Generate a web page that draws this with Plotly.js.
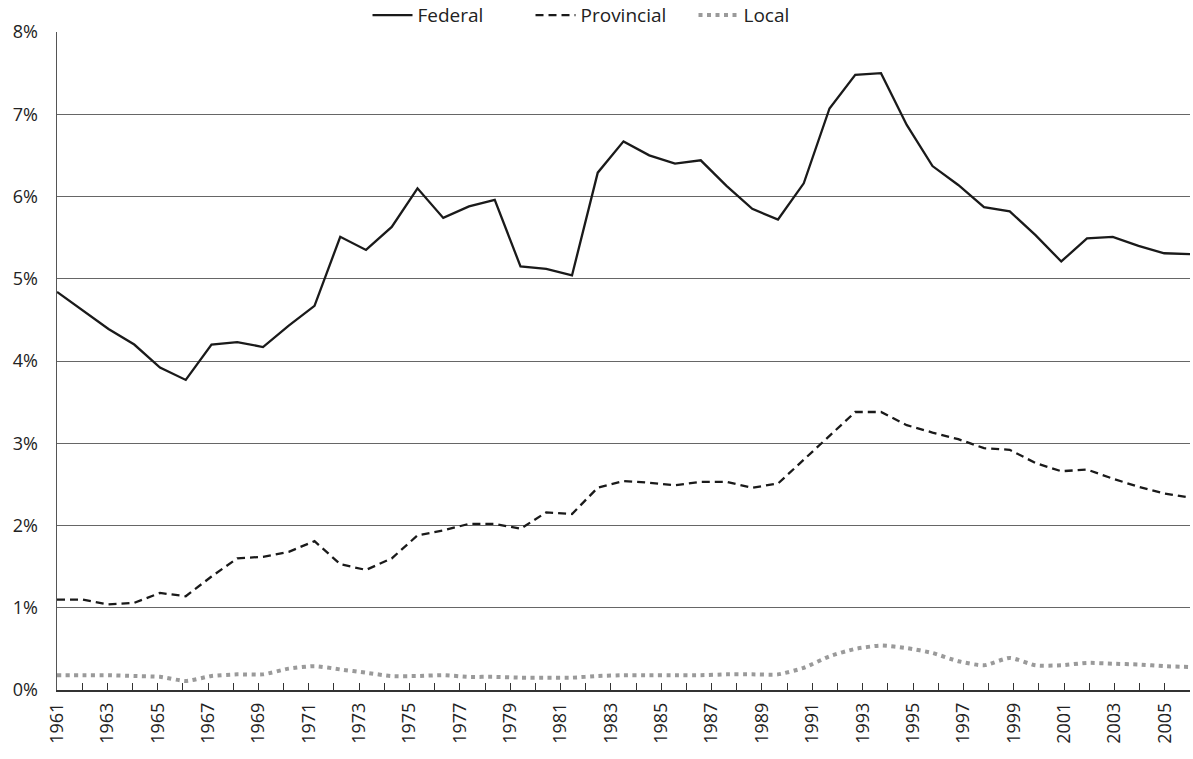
<!DOCTYPE html>
<html>
<head>
<meta charset="utf-8">
<script src="https://cdn.plot.ly/plotly-3.0.1.min.js"></script>
<style>html,body{margin:0;padding:0;background:#fff;}#chart{width:1193px;height:759px;}</style>
</head>
<body>
<div id="chart"></div>
<script>
// Data points (45 observations)
const years = [1961,1962,1963,1964,1965,1966,1967,1968,1969,1970,1971,1972,1973,1974,1975,1976,1977,1978,1979,1980,
  1981,1982,1983,1984,1985,1986,1987,1988,1989,1990,1991,1992,1993,1994,1995,1996,1997,1998,1999,2000,2001,2002,2003,2004,2005];
const federal = [4.84,4.62,4.39,4.20,3.92,3.77,4.20,4.23,4.17,4.43,4.67,5.51,5.35,5.63,6.10,5.74,5.88,5.96,5.15,5.12,
  5.04,6.29,6.67,6.50,6.40,6.44,6.13,5.85,5.72,6.16,7.07,7.48,7.50,6.87,6.37,6.14,5.87,5.82,5.53,5.21,5.49,5.51,5.40,5.31,5.30];
const provincial = [1.10,1.10,1.04,1.06,1.18,1.14,1.38,1.60,1.62,1.68,1.81,1.53,1.46,1.60,1.88,1.94,2.02,2.02,1.96,2.16,
  2.14,2.46,2.54,2.52,2.49,2.53,2.53,2.46,2.51,2.80,3.09,3.38,3.38,3.22,3.13,3.05,2.94,2.92,2.76,2.66,2.68,2.57,2.47,2.39,2.34];
const local = [0.18,0.18,0.18,0.17,0.16,0.11,0.17,0.19,0.19,0.26,0.29,0.25,0.21,0.17,0.17,0.18,0.16,0.16,0.15,0.15,
  0.15,0.17,0.18,0.18,0.18,0.18,0.19,0.19,0.19,0.27,0.41,0.50,0.54,0.51,0.45,0.35,0.30,0.39,0.30,0.30,0.33,0.32,0.31,0.29,0.28];
// Tick labels of the category axis (46 ticks)
const tickYears = [1961,1962,1963,1964,1965,1966,1967,1968,1969,1970,1971,1972,1973,1974,1975,1976,1977,1978,1979,1980,
  1981,1982,1983,1984,1985,1986,1987,1988,1989,1990,1991,1992,1993,1994,1995,1996,1997,1998,1999,2000,2001,2002,2003,2004,2005,2006];
const yTicks = [0,1,2,3,4,5,6,7,8];

const first = years[0], last = years[years.length-1];
const step = (last - first) / (tickYears.length - 1);
const tickvals = tickYears.map((y,k) => first + k*step);
const ticktext = tickYears.map((y,k) => (k % 2 === 0 ? String(y) : ''));

const FONT = 'Open Sans, Noto Sans, sans-serif';
const traces = [
  {x: years, y: federal, name: 'Federal', mode: 'lines', type: 'scatter',
   line: {color: '#1a1a1a', width: 2.3}},
  {x: years, y: provincial, name: 'Provincial', mode: 'lines', type: 'scatter',
   line: {color: '#1a1a1a', width: 2.3, dash: '8px,5px'}},
  {x: years, y: local, name: 'Local', mode: 'lines', type: 'scatter',
   line: {color: '#9a9a9a', width: 4, dash: '4px,4.5px', shape: 'spline', smoothing: 0.6}}
];

const layout = {
  width: 1193, height: 759,
  margin: {l: 57, r: 3, t: 32, b: 69, pad: 0, autoexpand: false},
  paper_bgcolor: '#fff', plot_bgcolor: '#fff',
  font: {family: FONT, size: 18, color: '#222'},
  showlegend: true,
  legend: {orientation: 'h', xref: 'container', yref: 'container', x: 0.513, xanchor: 'center',
           y: 0.98, yanchor: 'middle', font: {family: FONT, size: 19, color: '#222'},
           entrywidth: 108, entrywidthmode: 'pixels',
           itemwidth: 40, tracegroupgap: 0, bgcolor: 'rgba(0,0,0,0)'},
  xaxis: {range: [first, last], tickmode: 'array', tickvals: tickvals, ticktext: ticktext,
          tickangle: -90, ticks: 'inside', ticklen: 7, tickcolor: '#333', tickwidth: 1,
          showgrid: false, zeroline: false, showline: true, linecolor: '#333', linewidth: 1.5,
          ticklabelstandoff: 4,
          tickfont: {family: FONT, size: 18, color: '#222'}, fixedrange: true},
  yaxis: {range: [0, 8], tickmode: 'array', tickvals: yTicks, ticktext: yTicks.map(v => v + '%'),
          ticks: '', ticklabelstandoff: 14, showgrid: true, gridcolor: '#666', gridwidth: 1,
          zeroline: false, showline: true, linecolor: '#555', linewidth: 1.5,
          tickfont: {family: FONT, size: 18, color: '#222'}, fixedrange: true}
};

Plotly.newPlot('chart', traces, layout, {staticPlot: true, displayModeBar: false});
</script>
</body>
</html>
